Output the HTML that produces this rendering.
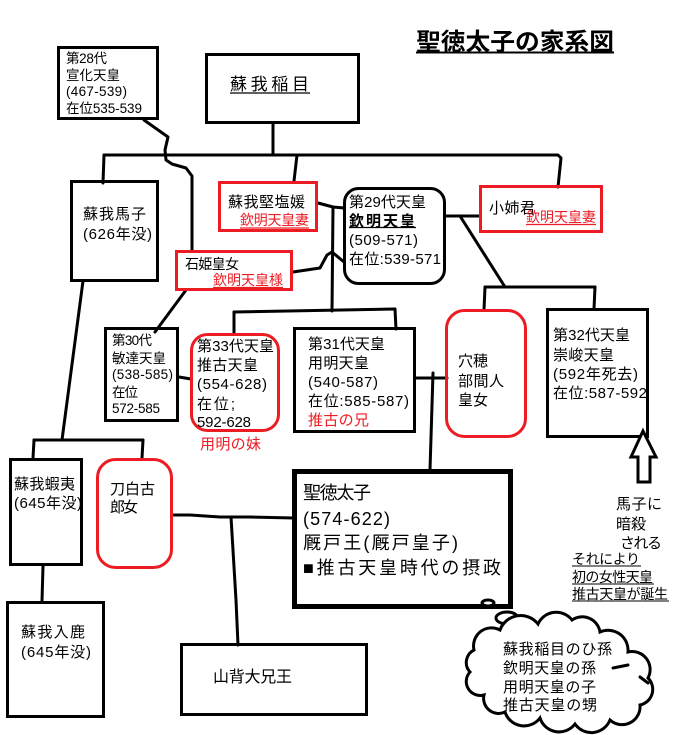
<!DOCTYPE html>
<html><head><meta charset="utf-8"><style>
html,body{margin:0;padding:0;background:#fff;width:673px;height:735px;overflow:hidden}
svg{display:block}
.t{font-family:"Liberation Sans","Noto Sans CJK JP",sans-serif;fill:#000}
.r{fill:#ED1C24}
.ln{stroke:#000;stroke-width:3;fill:none;stroke-linejoin:round;stroke-linecap:round}
.bx{stroke:#000;stroke-width:3;fill:none}
.rb{stroke:#ED1C24;stroke-width:3;fill:none}
</style></head><body>
<svg width="673" height="735" viewBox="0 0 673 735" xmlns="http://www.w3.org/2000/svg">
<rect width="673" height="735" fill="#fff"/>

<!-- Title -->
<text class="t" x="416" y="50" font-size="24" font-weight="bold" textLength="198" lengthAdjust="spacingAndGlyphs">聖徳太子の家系図</text>
<line x1="416" y1="52.5" x2="614" y2="52.5" stroke="#000" stroke-width="2"/>

<!-- Connectors -->
<polyline class="ln" points="273,124 273,155"/>
<polyline class="ln" points="104,155 558,155 561,158 558,187"/>
<polyline class="ln" points="104,155 103,183"/>
<polyline class="ln" points="144,120 168,137 165,150 166,160 172,164 186,168 192,176 192,251"/>
<polyline class="ln" points="297,155 294,181"/>
<polyline class="ln" points="318,203 333,207 344,208"/>
<polyline class="ln" points="333,207 332,311"/>
<polyline class="ln" points="234,312 395,309"/>
<polyline class="ln" points="234,312 234,334"/>
<polyline class="ln" points="395,309 396,329"/>
<polyline class="ln" points="293,272 320,268 327,255 332,252 344,262"/>
<polyline class="ln" points="186,290 155,332"/>
<polyline class="ln" points="179,377 191,379"/>
<polyline class="ln" points="446,216 480,216"/>
<polyline class="ln" points="460,216 505,287"/>
<polyline class="ln" points="485,287 595,287"/>
<polyline class="ln" points="485,287 484,310"/>
<polyline class="ln" points="595,287 594,309"/>
<polyline class="ln" points="416,378 447,378"/>
<polyline class="ln" points="433,373 430,470"/>
<polyline class="ln" points="83,281 62,440"/>
<polyline class="ln" points="34,440 143,440"/>
<polyline class="ln" points="34,440 33,458"/>
<polyline class="ln" points="143,440 142,458"/>
<polyline class="ln" points="43,566 42,601"/>
<polyline class="ln" points="173,515 190,515 220,517 250,517 294,518"/>
<polyline class="ln" points="231,517 236,600 238,645"/>

<!-- Boxes -->
<rect class="bx" x="58.5" y="47.5" width="99" height="71" fill="#fff"/>
<rect class="bx" x="206.5" y="54.5" width="152" height="68"/>
<rect class="bx" x="71.5" y="181.5" width="86" height="99"/>
<rect class="rb" x="219.5" y="182.5" width="97" height="48"/>
<rect class="rb" x="176.5" y="251.5" width="115" height="38"/>
<rect class="bx" x="344.5" y="188.5" width="100" height="95" rx="14"/>
<rect class="rb" x="480.5" y="186.5" width="121" height="45"/>
<rect class="rb" x="446.5" y="310.5" width="79" height="126" rx="18"/>
<rect class="bx" x="547.5" y="309.5" width="100" height="127"/>
<rect class="bx" x="105.5" y="328.5" width="72" height="92"/>
<rect class="rb" x="191.5" y="334.5" width="87" height="96" rx="16"/>
<rect class="bx" x="294.5" y="328.5" width="120" height="103"/>
<rect class="bx" x="10.5" y="459.5" width="71" height="105"/>
<rect class="rb" x="97.5" y="459.5" width="74" height="108" rx="18"/>
<rect class="bx" x="7.5" y="602.5" width="96" height="114"/>
<rect class="bx" x="181.5" y="644.5" width="185" height="70"/>
<rect x="294.5" y="471.5" width="216" height="135" stroke="#000" stroke-width="5" fill="none"/>

<!-- Arrow -->
<polygon points="643,431 656,457 650,457 650,482 638,482 638,457 631,457" fill="#fff" stroke="#000" stroke-width="3" stroke-linejoin="miter"/>

<!-- Cloud -->
<ellipse cx="488" cy="603" rx="6" ry="3" fill="#fff" stroke="#000" stroke-width="3"/>
<ellipse cx="507" cy="618" rx="11" ry="6" fill="#fff" stroke="#000" stroke-width="3"/>
<path d="M474,650 A18,18 0 0 1 500,630 A22,22 0 0 1 538,624 A20,20 0 0 1 572,620 A18,18 0 0 1 600,632 A20,20 0 0 1 628,652 A18,18 0 0 1 648,678 A16,16 0 0 1 640,705 A18,18 0 0 1 610,720 A20,20 0 0 1 575,724 A20,20 0 0 1 540,718 A20,20 0 0 1 505,712 A15,15 0 0 1 484,695 A14,14 0 0 1 470,672 A14,14 0 0 1 474,650 Z" fill="#fff" stroke="#000" stroke-width="3"/>
<polyline class="ln" points="613,668 628,665"/>
<polyline class="ln" points="640,677 648,683"/>

<!-- Texts -->
<g class="t" font-size="13.5">
<text x="66" y="63" textLength="41">第28代</text>
<text x="66" y="80" textLength="54">宣化天皇</text>
<text x="66" y="96" textLength="61">(467-539)</text>
<text x="66" y="113" textLength="76">在位535-539</text>
</g>

<text class="t" x="230" y="90" font-size="17" textLength="79">蘇我稲目</text>
<line x1="230" y1="93" x2="310" y2="93" stroke="#000" stroke-width="1.2"/>

<g class="t" font-size="15">
<text x="83" y="219" textLength="63">蘇我馬子</text>
<text x="83" y="239" textLength="69">(626年没)</text>

<text x="228" y="207" textLength="77">蘇我堅塩媛</text>
<text x="185" y="269" textLength="54" font-size="14">石姫皇女</text>

<text x="349" y="207" textLength="77">第29代天皇</text>
<text x="349" y="226" textLength="66" font-weight="bold">欽明天皇</text>
<text x="349" y="245" textLength="69">(509-571)</text>
<text x="349" y="264" textLength="92">在位:539-571</text>

<text x="489" y="213" textLength="46">小姉君</text>

<text x="458" y="366" textLength="30">穴穂</text>
<text x="458" y="386" textLength="46">部間人</text>
<text x="458" y="405" textLength="30">皇女</text>

<text x="553" y="340" textLength="77">第32代天皇</text>
<text x="553" y="360" textLength="61">崇峻天皇</text>
<text x="553" y="379" textLength="85">(592年死去)</text>
<text x="553" y="398" textLength="94">在位:587-592</text>

<text x="197" y="351" textLength="77">第33代天皇</text>
<text x="197" y="370" textLength="61">推古天皇</text>
<text x="197" y="389" textLength="70">(554-628)</text>
<text x="197" y="409" textLength="38">在位;</text>
<text x="197" y="427" textLength="54">592-628</text>
<text x="200" y="449" textLength="61" class="r">用明の妹</text>

<text x="308" y="349" textLength="77">第31代天皇</text>
<text x="308" y="368" textLength="61">用明天皇</text>
<text x="308" y="387" textLength="70">(540-587)</text>
<text x="308" y="406" textLength="101">在位:585-587)</text>
<text x="308" y="425" textLength="61" class="r">推古の兄</text>

<text x="14" y="489" textLength="61">蘇我蝦夷</text>
<text x="14" y="508" textLength="68">(645年没)</text>

<text x="110" y="494" textLength="45">刀白古</text>
<text x="110" y="512" textLength="28">郎女</text>

<text x="21" y="637" textLength="64">蘇我入鹿</text>
<text x="21" y="657" textLength="70">(645年没)</text>

<text x="503" y="654" textLength="109">蘇我稲目のひ孫</text>
<text x="503" y="673" textLength="93">欽明天皇の孫</text>
<text x="503" y="692" textLength="93">用明天皇の子</text>
<text x="503" y="710" textLength="94">推古天皇の甥</text>

<text x="616" y="509" textLength="46">馬子に</text>
<text x="616" y="529" textLength="30">暗殺</text>
<text x="620" y="548" textLength="42">される</text>
</g>

<g class="t" font-size="14">
<text x="240" y="225" textLength="69" class="r">欽明天皇妻</text>
<text x="213" y="285" textLength="70" class="r">欽明天皇様</text>
<text x="526" y="222" textLength="70" class="r">欽明天皇妻</text>
<text x="112" y="345" textLength="40" font-size="13.5">第30代</text>
<text x="112" y="363" textLength="54" font-size="13.5">敏達天皇</text>
<text x="112" y="379" textLength="61" font-size="13.5">(538-585)</text>
<text x="112" y="397" textLength="26" font-size="13.5">在位</text>
<text x="112" y="413" textLength="48" font-size="13.5">572-585</text>
<text x="572" y="564" textLength="68">それにより</text>
<text x="572" y="582" textLength="81">初の女性天皇</text>
<text x="572" y="599" textLength="96">推古天皇が誕生</text>
</g>
<line x1="240" y1="228" x2="309" y2="228" stroke="#ED1C24" stroke-width="1.2"/>
<line x1="213" y1="287.5" x2="283" y2="287.5" stroke="#ED1C24" stroke-width="1.2"/>
<line x1="526" y1="224.5" x2="596" y2="224.5" stroke="#ED1C24" stroke-width="1.2"/>
<line x1="349" y1="227.5" x2="416" y2="227.5" stroke="#000" stroke-width="1.2"/>
<line x1="572" y1="566" x2="641" y2="566" stroke="#000" stroke-width="1"/>
<line x1="572" y1="584" x2="654" y2="584" stroke="#000" stroke-width="1"/>
<line x1="572" y1="601" x2="669" y2="601" stroke="#000" stroke-width="1"/>

<text class="t" x="213" y="682" font-size="16" textLength="79">山背大兄王</text>

<g class="t" font-size="18">
<text x="303" y="499" textLength="68">聖徳太子</text>
<text x="303" y="525" textLength="87">(574-622)</text>
<text x="303" y="549" textLength="155">厩戸王(厩戸皇子)</text>
<text x="303" y="574" textLength="198">■推古天皇時代の摂政</text>
</g>
</svg>
</body></html>
